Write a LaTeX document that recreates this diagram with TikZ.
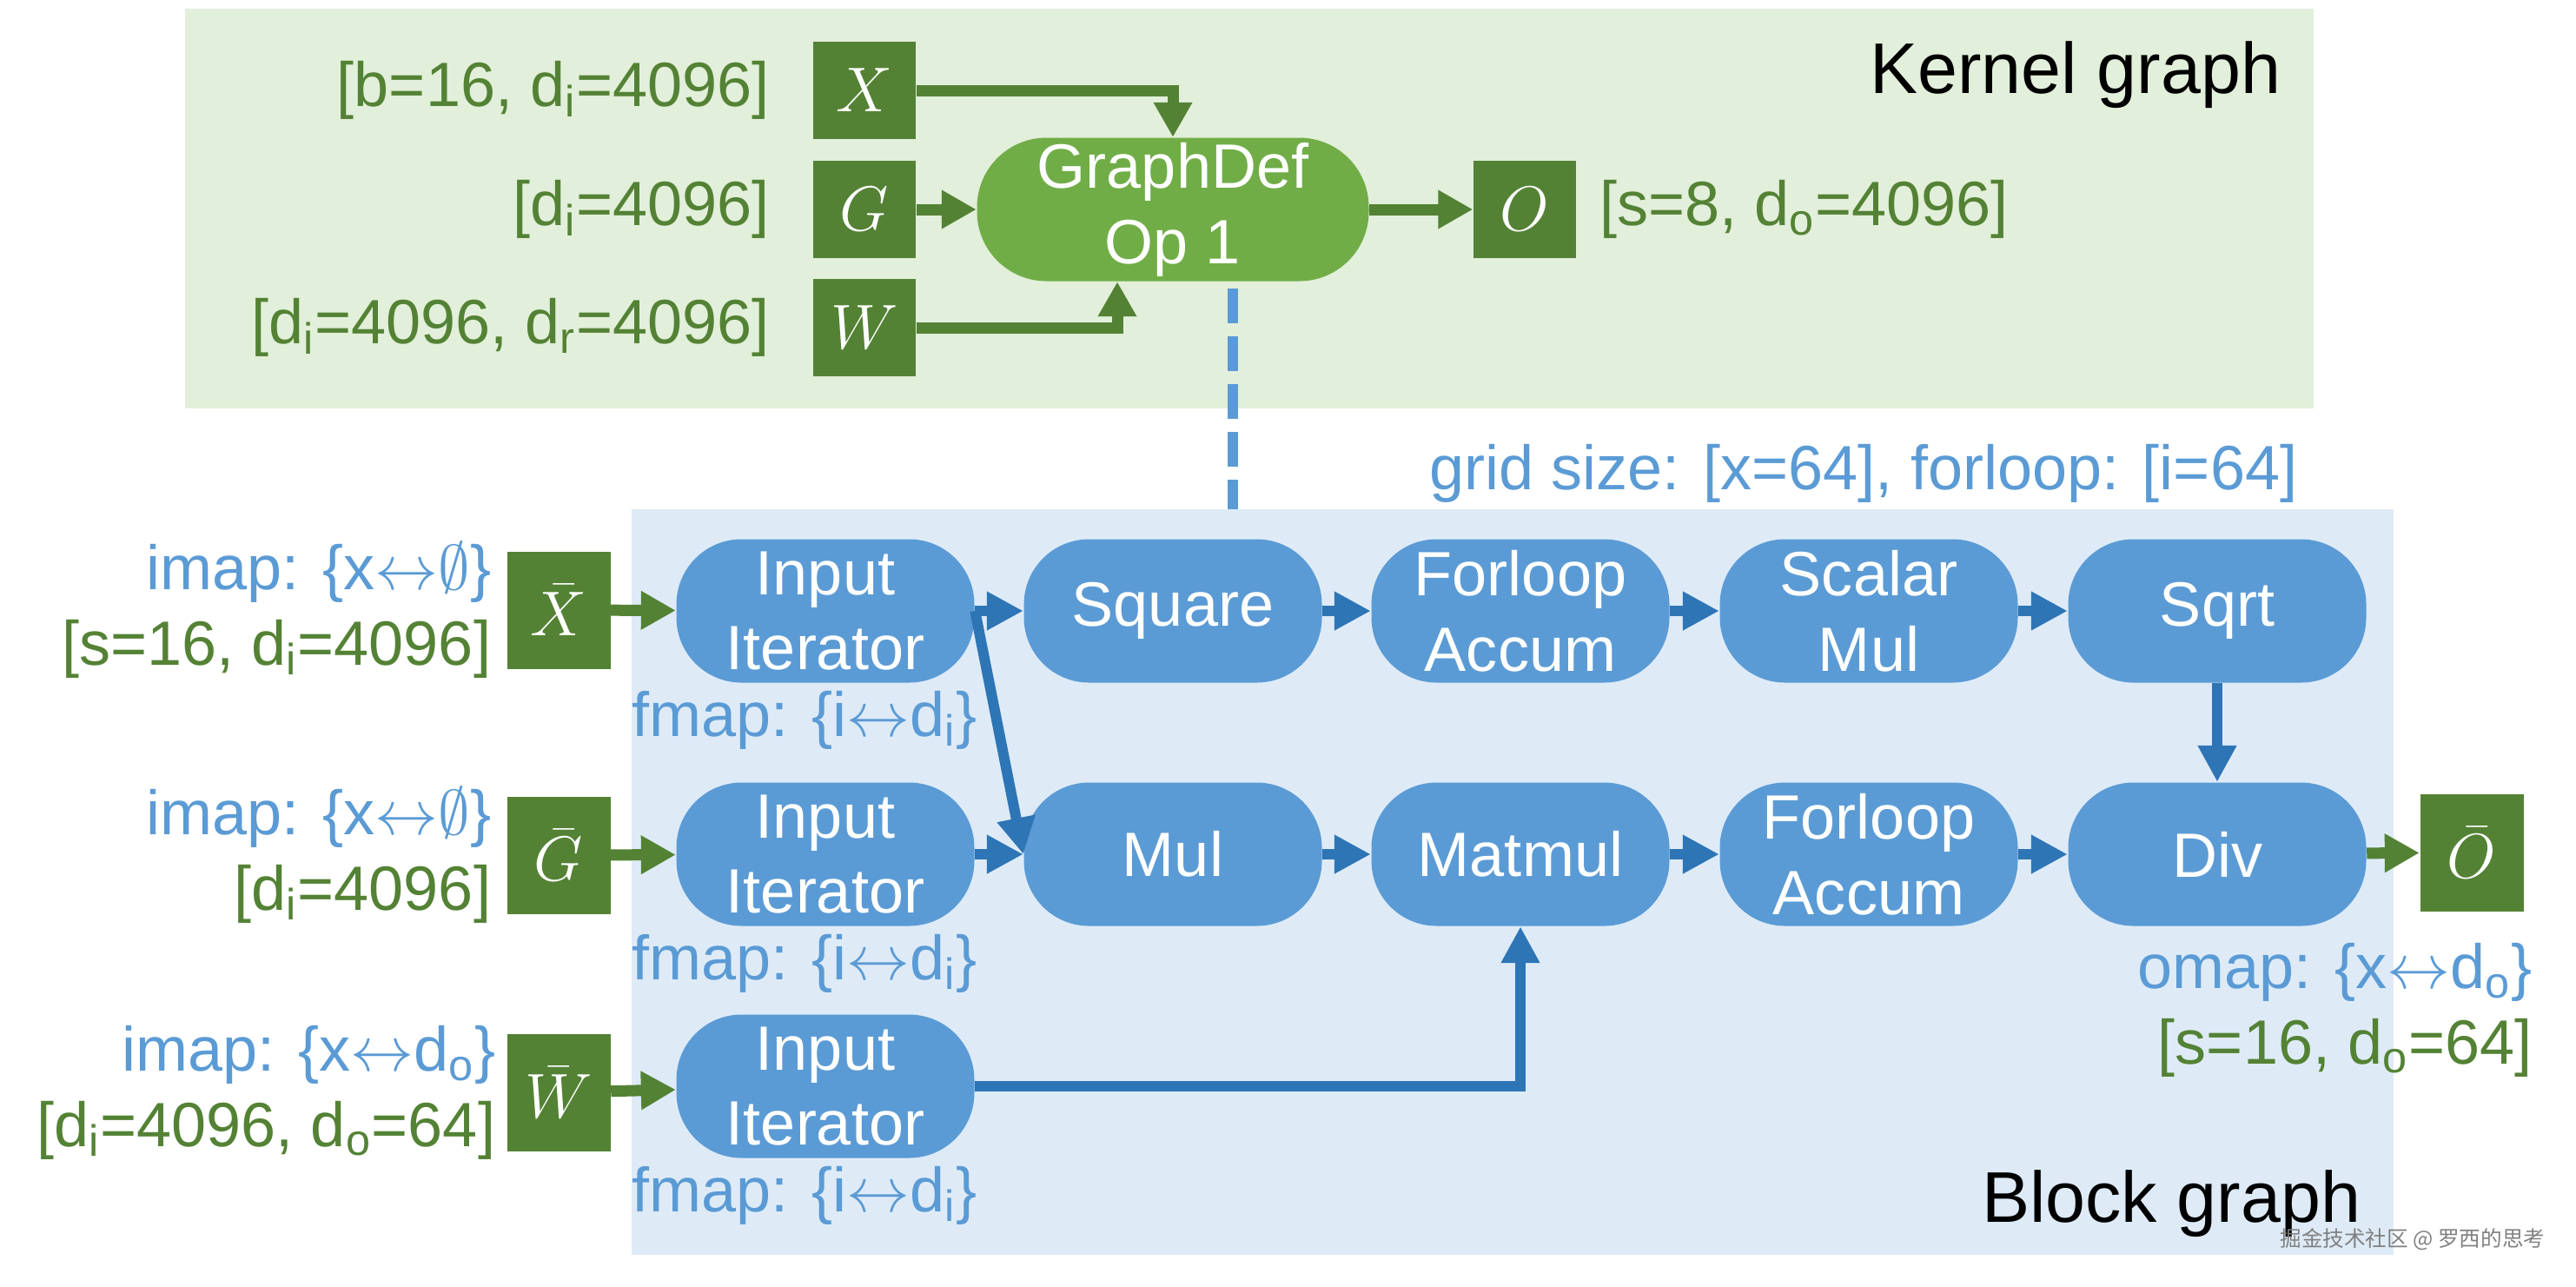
\documentclass[tikz,border=0pt]{standalone}
\usepackage{fontspec}
\setmainfont{Liberation Sans}
\newfontfamily\cjkfont{Noto Sans CJK SC}
\usetikzlibrary{arrows.meta,positioning}

\definecolor{kbg}{HTML}{E2EFDA}
\definecolor{bbg}{HTML}{DEEBF7}
\definecolor{tgreen}{HTML}{548235}
\definecolor{kgreen}{HTML}{70AD47}
\definecolor{opblue}{HTML}{5B9BD5}
\definecolor{arblue}{HTML}{2E75B6}
\definecolor{lblue}{HTML}{5B9BD5}

\newcommand{\figfont}{\fontsize{20.5}{24.7}\selectfont}
\newcommand{\headfont}{\fontsize{23.5}{28}\selectfont}
\newcommand{\lr}{$\leftrightarrow$}

\begin{document}
\begin{tikzpicture}[font=\figfont,
    tensor/.style={fill=tgreen, text=white, minimum width=1.18cm, minimum height=1.12cm, inner sep=0pt},
    btensor/.style={tensor, minimum width=1.19cm, minimum height=1.35cm},
    gdefop/.style={fill=kgreen, text=white, align=center, minimum width=4.51cm, minimum height=1.65cm, rounded corners=0.8cm, inner sep=0pt},
    op/.style={fill=opblue, text=white, align=center, minimum width=3.43cm, minimum height=1.65cm, rounded corners=0.75cm, inner sep=0pt},
    glabel/.style={text=tgreen, align=right, inner sep=0pt},
    blabel/.style={text=lblue, inner sep=0pt},
    head/.style={font=\headfont, inner sep=0pt},
    garrow/.style={draw=tgreen, line width=0.13cm, -{Triangle[length=0.4cm,width=0.42cm]}},
    barrow/.style={draw=arblue, line width=0.12cm, -{Triangle[length=0.42cm,width=0.42cm]}},
    dashlink/.style={draw=lblue, line width=0.12cm, dash pattern=on 0.4cm off 0.15cm}]
    \useasboundingbox (0,0) rectangle (29.65,-14.80);
    % backgrounds
    \fill[kbg] (2.13,-0.10) rectangle (26.63,-4.70);
    \fill[bbg] (7.27,-5.86) rectangle (27.55,-14.44);
    \node[head, anchor=base east] (ktitle) at (26.26,-1.07) {Kernel graph};
    \node[head, anchor=base east] (btitle) at (27.18,-14.06) {Block graph};
    \node[anchor=base east, font=\cjkfont\fontsize{7}{8}\selectfont, text=gray, inner sep=0pt] (wmark) at (29.30,-14.34) {掘金技术社区 @ 罗西的思考};

    % kernel graph
    \node[tensor] (tX) at (9.95,-1.04) {$X$};
    \node[tensor] (tG) at (9.95,-2.41) {$G$};
    \node[tensor] (tW) at (9.95,-3.77) {$W$};
    \node[gdefop] (gdef) at (13.50,-2.41) {GraphDef\\Op 1};
    \node[tensor] (tO) at (17.55,-2.41) {$O$};
    \node[glabel, left=0.49cm of tX] (lX) {[b=16, d\textsubscript{i}=4096]};
    \node[glabel, left=0.49cm of tG] (lG) {[d\textsubscript{i}=4096]};
    \node[glabel, left=0.49cm of tW] (lW) {[d\textsubscript{i}=4096, d\textsubscript{r}=4096]};
    \node[glabel, right=0.26cm of tO] (lO) {[s=8, d\textsubscript{o}=4096]};
    \draw[garrow] (tX.east) -| (gdef.north);
    \draw[garrow] (tG) -- (gdef);
    \draw[garrow] (tW.east) -| ([xshift=-0.64cm]gdef.south);
    \draw[garrow] (gdef) -- (tO);

    % link kernel op -> block graph
    \coordinate (dashend) at (14.19,-5.86);
    \draw[dashlink] ([shift={(0.69,-0.08)}]gdef.south) -- (dashend);
    \node[blabel, anchor=base east] (grid) at (26.45,-5.63) {grid size: [x=64], forloop: [i=64]};

    % block graph
    \node[op] (iterX) at (9.50,-7.03) {Input\\Iterator};
    \node[op] (square) at (13.50,-7.03) {Square};
    \node[op] (accumA) at (17.50,-7.03) {Forloop\\Accum};
    \node[op] (smul) at (21.51,-7.03) {Scalar\\Mul};
    \node[op] (sqrt) at (25.52,-7.03) {Sqrt};
    \node[op] (iterG) at (9.50,-9.83) {Input\\Iterator};
    \node[op] (mul) at (13.50,-9.83) {Mul};
    \node[op] (matmul) at (17.50,-9.83) {Matmul};
    \node[op] (accumB) at (21.51,-9.83) {Forloop\\Accum};
    \node[op] (div) at (25.52,-9.83) {Div};
    \node[op] (iterW) at (9.50,-12.50) {Input\\Iterator};
    \node[blabel, below=0.08cm of iterX, xshift=-0.24cm] (fX) {fmap: \{i\lr d\textsubscript{i}\}};
    \node[blabel, below=0.08cm of iterG, xshift=-0.24cm] (fG) {fmap: \{i\lr d\textsubscript{i}\}};
    \node[blabel, below=0.08cm of iterW, xshift=-0.24cm] (fW) {fmap: \{i\lr d\textsubscript{i}\}};

    % block tensors
    \node[btensor] (bX) at (6.43,-7.02) {$\bar{X}$};
    \node[btensor] (bG) at (6.43,-9.84) {$\bar{G}$};
    \node[btensor] (bW) at (6.43,-12.57) {$\bar{W}$};
    \node[btensor] (bO) at (28.45,-9.81) {$\bar{O}$};
    \node[glabel, left=0.17cm of bX] (lbX) {{\color{lblue}imap: \{x\lr$\emptyset$\}}\\{[}s=16, d\textsubscript{i}=4096{]}};
    \node[glabel, left=0.17cm of bG] (lbG) {{\color{lblue}imap: \{x\lr$\emptyset$\}}\\{[}d\textsubscript{i}=4096{]}};
    \node[glabel, left=0.12cm of bW] (lbW) {{\color{lblue}imap: \{x\lr d\textsubscript{o}\}}\\{[}d\textsubscript{i}=4096, d\textsubscript{o}=64{]}};
    \node[glabel, anchor=east] (lbO) at (29.15,-11.62) {{\color{lblue}omap: \{x\lr d\textsubscript{o}\}}\\{[}s=16, d\textsubscript{o}=64{]}};

    % connectors
    \draw[garrow] (bX) -- (iterX);
    \draw[garrow] (bG) -- (iterG);
    \draw[garrow] (bW) -- (iterW);
    \draw[barrow] (iterX) -- (square);
    \draw[barrow] (iterX.east) -- (mul.west);
    \draw[barrow] (square) -- (accumA);
    \draw[barrow] (accumA) -- (smul);
    \draw[barrow] (smul) -- (sqrt);
    \draw[barrow] (sqrt) -- (div);
    \draw[barrow] (iterG) -- (mul);
    \draw[barrow] (mul) -- (matmul);
    \draw[barrow] (matmul) -- (accumB);
    \draw[barrow] (accumB) -- (div);
    \draw[barrow] (iterW.east) -| (matmul.south);
    \draw[garrow] (div) -- (bO);
\end{tikzpicture}
\end{document}
